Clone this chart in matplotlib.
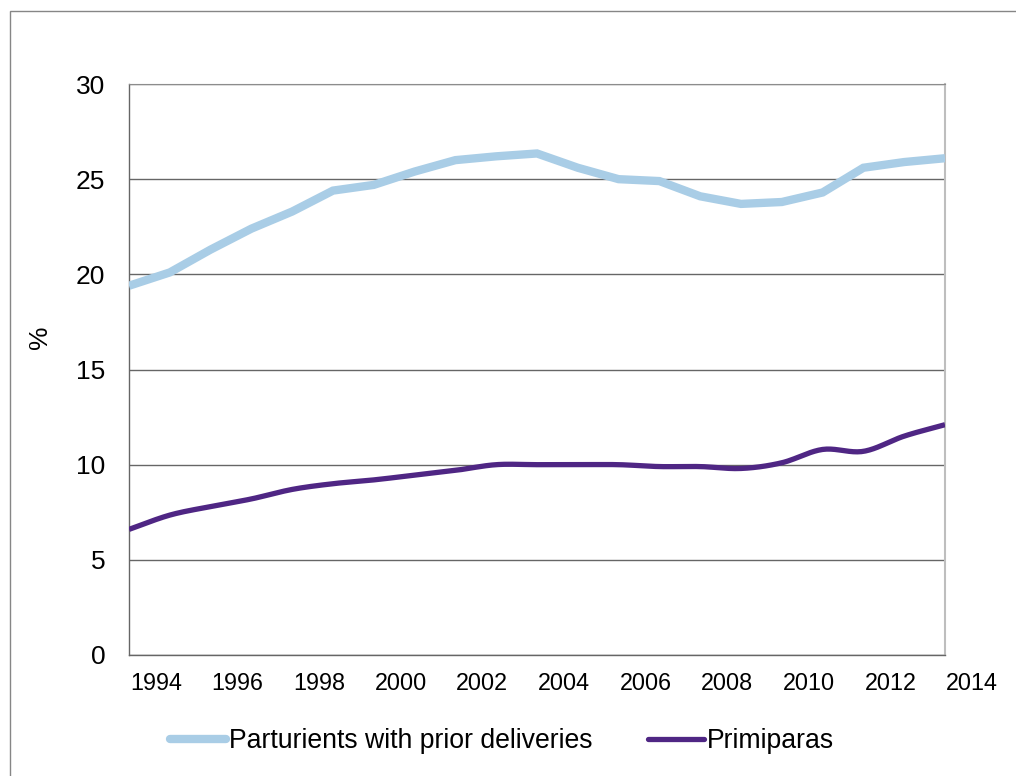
import numpy as np
import matplotlib
matplotlib.use("Agg")
import matplotlib.pyplot as plt
from matplotlib.patches import Rectangle

plt.rcParams['font.family'] = ['Liberation Sans', 'DejaVu Sans']

# Share of births (%) by year
years = list(range(1993, 2014))
prior_deliveries = [19.4, 20.1, 21.3, 22.4, 23.3, 24.4, 24.7, 25.4, 26.0, 26.2,
                    26.35, 25.6, 25.0, 24.9, 24.1, 23.7, 23.8, 24.3, 25.6, 25.9, 26.1]
primiparas = [6.6, 7.35, 7.8, 8.2, 8.7, 9.0, 9.2, 9.45, 9.7, 10.0,
              10.0, 10.0, 10.0, 9.9, 9.9, 9.8, 10.1, 10.8, 10.7, 11.5, 12.1]
tick_years = list(range(1994, 2015, 2))
y_ticks = [0, 5, 10, 15, 20, 25, 30]

series_names = ["Parturients with prior deliveries", "Primiparas"]
light_blue = "#A9CDE6"
purple = "#4F2684"


def smooth(x, y, n=20):
    """Catmull-Rom curve through the points, for a smoothed line."""
    x = np.asarray(x, float)
    y = np.asarray(y, float)
    px = np.concatenate([[2 * x[0] - x[1]], x, [2 * x[-1] - x[-2]]])
    py = np.concatenate([[2 * y[0] - y[1]], y, [2 * y[-1] - y[-2]]])
    xs, ys = [], []
    t = np.linspace(0, 1, n, endpoint=False)
    for i in range(1, len(px) - 2):
        for p, out in ((px, xs), (py, ys)):
            p0, p1, p2, p3 = p[i - 1], p[i], p[i + 1], p[i + 2]
            out.extend(0.5 * ((2 * p1) + (-p0 + p2) * t +
                              (2 * p0 - 5 * p1 + 4 * p2 - p3) * t ** 2 +
                              (-p0 + 3 * p1 - 3 * p2 + p3) * t ** 3))
    xs.append(x[-1])
    ys.append(y[-1])
    return np.array(xs), np.array(ys)


fig = plt.figure(figsize=(10.16, 7.76), dpi=100)
fig.patches.append(Rectangle((10 / 1016, -0.1), 1.2, 1 - 11 / 776 + 0.1,
                             transform=fig.transFigure, fill=False,
                             edgecolor="#868686", linewidth=1.0))

ax = fig.add_axes([129 / 1016, 1 - 655 / 776, (945 - 129) / 1016, (655 - 84) / 776])

idx = np.arange(len(years))
ax.plot(idx, prior_deliveries, color=light_blue, linewidth=6.0,
        solid_joinstyle="miter", solid_capstyle="butt",
        label=series_names[0], zorder=3)
sx, sy = smooth(idx, primiparas)
ax.plot(sx, sy, color=purple, linewidth=3.8, solid_capstyle="butt",
        label=series_names[1], zorder=4)

ax.set_xlim(0, len(years) - 1)
ax.set_ylim(0, 30)
ax.set_yticks(y_ticks)
ax.set_yticklabels([str(v) for v in y_ticks], fontsize=19)
ax.tick_params(axis="y", length=0, pad=17)
ax.set_xticks([])
ax.yaxis.grid(True, color="#666666", linewidth=1.0)
ax.set_axisbelow(True)

for s in ("left", "bottom"):
    ax.spines[s].set_color("#666666")
    ax.spines[s].set_linewidth(1.0)
ax.spines["top"].set_color("#8C8C8C")
ax.spines["right"].set_color("#BEBEBE")
ax.spines["right"].set_linewidth(1.5)

# Year labels sit between the plotted categories
for ty in tick_years:
    ax.text(ty - years[0] - 0.34, -0.05, str(ty),
            transform=ax.get_xaxis_transform(),
            ha="center", va="center", fontsize=16.8)

fig.text(40 / 1016, 1 - 337 / 776, "%", rotation=90, ha="center", va="center",
         fontsize=19)

leg = fig.legend(*ax.get_legend_handles_labels(), loc="center left",
                 bbox_to_anchor=(170 / 1016, 1 - 741 / 776),
                 ncol=2, frameon=False, fontsize=19.2, handlelength=2.1,
                 handletextpad=0.11, columnspacing=2.1,
                 borderpad=0, borderaxespad=0)
for h in leg.legend_handles:
    h.set_solid_capstyle("round")

fig.savefig("out.png", dpi=100)
